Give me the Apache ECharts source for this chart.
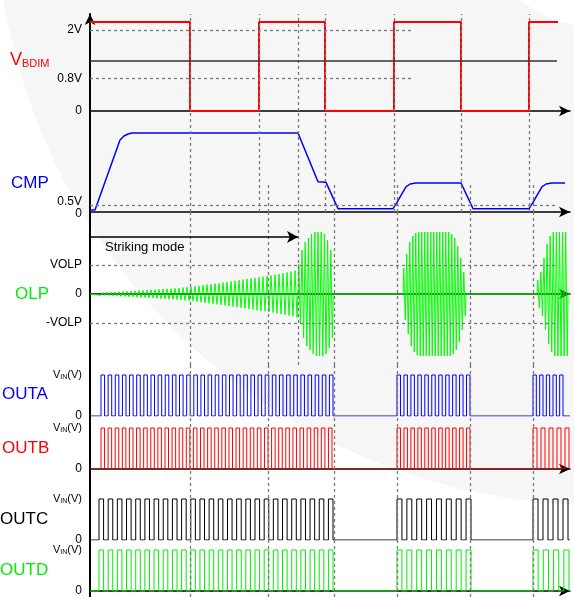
<!DOCTYPE html>
<html>
<head>
<meta charset="utf-8">
<script src="https://cdn.jsdelivr.net/npm/echarts@6/dist/echarts.min.js"></script>
<style>
html, body { margin: 0; padding: 0; background: #fff; }
#Chart { width: 574px; height: 597px; }
</style>
</head>
<body>
<div id="Chart"></div>
<script>
// time runs 0..480 along every panel
var tMax = 480;

// VBDIM: toggle times (starts high)
var bdimEdges = [0, 100, 169, 235, 304, 371, 439, 468];
var bdimHigh = 2.2;
var bdimRef = 1.235;
var bdimTickVals = [0, 0.8, 2];
var bdimTickText = ['0', '0.8V', '2V'];

// CMP waveform
var cmpT = [0, 5, 10, 15, 20, 25, 30, 34, 38, 42, 208, 228, 236, 248, 303, 307, 312, 316, 320, 326, 371, 383, 439, 443, 448, 452, 456, 462, 475];
var cmpV = [0.14, 0.14, 1.14, 2.14, 3.14, 4.14, 5.14, 5.43, 5.57, 5.64, 5.64, 2.16, 2.12, 0.24, 0.24, 0.69, 1.31, 1.8, 2.0, 2.07, 2.07, 0.24, 0.24, 0.69, 1.31, 1.8, 2.0, 2.07, 2.07];
var cmpRef = 0.5;
var cmpRefText = '0.5V';

// OLP bursts: [start, period], amplitude of each cycle
var olpBursts = [[0, 4], [208, 3.2], [313, 3], [447, 3.1]];
var olpAmps = [
  [0.5, 0.8, 1.2, 1.5, 1.7, 1.9, 2.1, 2.4, 2.6, 2.8, 3, 3.3, 3.5, 3.6, 3.9, 4.1, 4.4, 4.7, 5, 5.2, 5.4, 5.7, 6, 6.4, 6.8, 7.2,
   7.8, 8.2, 8.8, 9.4, 9.8, 10.4, 10.9, 11.4, 12, 12.6, 13.2, 13.8, 14.4, 15, 15.6, 16.2, 16.8, 17.4, 18, 18.6, 19.4, 20, 20.8, 21.6, 22.4, 23.4],
  [30, 44, 52, 56, 60, 62, 62, 62, 60, 54, 44],
  [26, 40, 52, 58, 61, 62, 62, 62, 62, 62, 62, 62, 62, 62, 62, 62, 60, 56, 48, 36, 22],
  [14, 22, 36, 50, 58, 62, 62, 62, 62, 62]
];
var olpTickVals = [-29, 0, 29];
var olpTickText = ['-VOLP', '0', 'VOLP'];
var olpVolp = 29;
var strikeLevel = 57;
var strikeEnd = 208;

// gate outputs: bursts [start, end, pulse count]
var outA = [[11, 243, 33], [307, 380, 11], [443, 473, 5]];
var outB = [[11, 242, 33], [307, 380, 11], [443, 479, 5]];
var outC = [[9, 243, 26], [307, 381, 8], [443, 478, 4]];
var outD = [[9, 243, 26], [307, 381, 8], [443, 479, 4]];
var outTickVals = [0, 1];

// dashed guides
var guideFull = [100];
var guideUpper = [169, 235, 304, 371, 439];
var guideStrike = [208];
var guideLower = [178, 244, 307, 380, 443];
var guideLowerFrom = 2.14;

var font = '"Liberation Sans", Arial, sans-serif';

var panels = [
    {top: 14, height: 97, min: 0, max: 2.395, arrow: true},
    {top: 111, height: 101, min: 0, max: 7.214, arrow: true},
    {top: 212, height: 153, min: -71, max: 82, arrow: true},
    {top: 365, height: 51, min: 0, max: 1.244, arrow: false},
    {top: 416, height: 53, min: 0, max: 1.293, arrow: true},
    {top: 469, height: 71, min: 0, max: 1.732, arrow: false},
    {top: 540, height: 57, min: -0.146, max: 1.244, arrow: true}
];

function bdimData() {
    var d = [];
    var high = true;
    for (var i = 0; i < bdimEdges.length; i++) {
        var lv = high ? bdimHigh : 0;
        if (i > 0) {
            d.push([bdimEdges[i], high ? 0 : bdimHigh]);
        }
        if (i < bdimEdges.length - 1) d.push([bdimEdges[i], lv]);
        else d.push([bdimEdges[i], high ? 0 : bdimHigh]);
        high = !high;
    }
    return d;
}

function cmpData() {
    var d = [];
    for (var i = 0; i < cmpT.length; i++) d.push([cmpT[i], cmpV[i]]);
    return d;
}

function olpData() {
    var d = [[0, 0]];
    for (var k = 0; k < olpBursts.length; k++) {
        var t0 = olpBursts[k][0], p = olpBursts[k][1], a = olpAmps[k];
        if (k > 0) d.push([t0, 0]);
        for (var i = 0; i < a.length; i++) {
            d.push([t0 + i * p + p / 4, a[i]]);
            d.push([t0 + i * p + 3 * p / 4, -a[i]]);
        }
        d.push([t0 + a.length * p, 0]);
    }
    d.push([tMax, 0]);
    return d;
}

function pulseData(bursts) {
    var d = [[0, 0]];
    bursts.forEach(function (b) {
        var p = (b[1] - b[0]) / (b[2] - 0.5);
        for (var i = 0; i < b[2]; i++) {
            var r = b[0] + i * p, f = r + p / 2;
            d.push([r, 0], [r, 1], [f, 1], [f, 0]);
        }
    });
    d.push([tMax, 0]);
    return d;
}

function vLine(t, y0, y1) { return [{coord: [t, y0]}, {coord: [t, y1]}]; }
function hLine(y, t0, t1) { return [{coord: [t0, y]}, {coord: [t1, y]}]; }

function startLabel(text, dy) {
    return {
        show: true, formatter: text, position: 'start', distance: 8,
        color: '#000', fontSize: 12, fontFamily: font, lineHeight: 8, offset: [0, dy]
    };
}

function guideLines(i) {
    var g = panels[i], lines = [];
    guideFull.forEach(function (t) { lines.push(vLine(t, g.min, g.max)); });
    if (i <= 1) guideUpper.forEach(function (t) { lines.push(vLine(t, g.min, g.max)); });
    if (i <= 2) guideStrike.forEach(function (t) { lines.push(vLine(t, g.min, g.max)); });
    if (i == 1) guideLower.forEach(function (t) { lines.push(vLine(t, g.min, guideLowerFrom)); });
    if (i >= 2) guideLower.forEach(function (t) { lines.push(vLine(t, g.min, g.max)); });
    if (i == 0) {
        lines.push(hLine(2, 0, 324));
        lines.push(hLine(0.8, 0, 321));
        var ref = hLine(bdimRef, 0, 467);
        ref[0].lineStyle = {type: 'solid', color: '#333', width: 1.5};
        lines.push(ref);
    }
    if (i == 1) {
        var c = hLine(cmpRef, 0, 468);
        c[0].label = startLabel(cmpRefText, -3);
        lines.push(c);
        var z = hLine(0, 0, 2);
        z[0].lineStyle = {color: 'rgba(0,0,0,0)'};
        z[0].label = startLabel('0', 2);
        lines.push(z);
    }
    if (i == 2) {
        lines.push(hLine(olpVolp, 0, 468));
        lines.push(hLine(-olpVolp, 0, 468));
        var s = hLine(strikeLevel, 0, strikeEnd);
        s[0].lineStyle = {type: 'solid', color: '#000', width: 1.5};
        s[0].symbol = 'none';
        s[1].symbol = 'arrow';
        s[1].symbolSize = [9, 11];
        s[0].label = {
            show: true, formatter: 'Striking mode', position: 'insideStartBottom',
            color: '#000', fontSize: 13, fontFamily: font, distance: 4, padding: [0, 0, 0, 11]
        };
        lines.push(s);
    }
    return lines;
}

var vinRich = {
    v: {fontSize: 11, color: '#000', fontFamily: font, verticalAlign: 'bottom'},
    s: {fontSize: 7, color: '#000', fontFamily: font, verticalAlign: 'bottom'}
};

function labelCfg(vals, texts) {
    return {
        show: vals.length > 0,
        customValues: vals,
        showMinLabel: true,
        showMaxLabel: true,
        formatter: function (v) {
            var k = vals.indexOf(v);
            return k < 0 ? '' : texts[k];
        },
        color: '#000',
        fontSize: 12,
        fontFamily: font,
        margin: 8,
        rich: vinRich
    };
}

function tickCfg(i) {
    if (i == 0) return labelCfg(bdimTickVals, bdimTickText);
    if (i == 1) return labelCfg([], []);
    if (i == 2) return labelCfg(olpTickVals, olpTickText);
    return labelCfg(outTickVals, ['0', '{v|V}{s|IN}{v|(V)}']);
}

var myChart = echarts.init(document.getElementById('Chart'));

var grid = [], xAxis = [], yAxis = [], series = [];
panels.forEach(function (g, i) {
    grid.push({left: 90, right: 4, top: g.top, height: g.height});
    xAxis.push({
        type: 'value', gridIndex: i, min: 0, max: tMax,
        axisLine: {
            show: g.arrow, onZero: true, symbol: ['none', 'arrow'], symbolSize: [8, 11],
            lineStyle: {color: '#000', width: 1.5}
        },
        axisTick: {show: false}, axisLabel: {show: false}, splitLine: {show: false}
    });
    yAxis.push({
        type: 'value', gridIndex: i, min: g.min, max: g.max,
        axisLine: {
            show: true, onZero: false,
            symbol: i == 0 ? ['none', 'arrow'] : 'none', symbolSize: [8, 11],
            lineStyle: {color: '#000', width: 2}
        },
        axisTick: {show: false}, splitLine: {show: false},
        axisLabel: tickCfg(i)
    });
    series.push({
        type: 'line', xAxisIndex: i, yAxisIndex: i, data: [], silent: true, z: 1,
        markLine: {
            silent: true, symbol: 'none', animation: false, label: {show: false},
            lineStyle: {color: '#7a7a7a', type: [3, 3], width: 1.3},
            data: guideLines(i)
        }
    });
});

function signal(i, data, color, width) {
    return {
        type: 'line', xAxisIndex: i, yAxisIndex: i, data: data, showSymbol: false,
        symbol: 'none', z: 3, silent: true,
        lineStyle: {color: color, width: width}
    };
}

series.push(signal(0, bdimData(), '#ff0000', 2));
series.push(signal(1, cmpData(), '#0000ff', 1.5));
series.push(signal(2, olpData(), '#00ff00', 1));
series.push(signal(3, pulseData(outA), '#0000ff', 1));
series.push(signal(4, pulseData(outB), '#ff0000', 1));
series.push(signal(5, pulseData(outC), '#000000', 1));
series.push(signal(6, pulseData(outD), '#00ee00', 1));

function name(x, y, text, color, rich) {
    return {
        type: 'text', x: x, y: y, silent: true, z: 10,
        style: {
            text: text, fill: color, font: '17px ' + font,
            verticalAlign: 'middle', align: 'left', rich: rich
        }
    };
}

var option = {
    animation: false,
    backgroundColor: '#fff',
    grid: grid,
    xAxis: xAxis,
    yAxis: yAxis,
    series: series,
    graphic: [
        {type: 'circle', shape: {cx: 600, cy: -100, r: 605}, style: {fill: '#f6f6f6'}, z: -10, silent: true},
        {type: 'circle', shape: {cx: 600, cy: -100, r: 128}, style: {fill: '#ffffff'}, z: -9, silent: true},
        name(10, 60, '{a|V}{b|BDIM}', '#ff0000', {
            a: {fontSize: 18, fill: '#ff0000', fontFamily: font, verticalAlign: 'bottom'},
            b: {fontSize: 11, fill: '#ff0000', fontFamily: font, verticalAlign: 'bottom'}
        }),
        name(11, 183, 'CMP', '#0000ff'),
        name(15, 294, 'OLP', '#00ee00'),
        name(2, 394, 'OUTA', '#0000ff'),
        name(2, 448, 'OUTB', '#ff0000'),
        name(0, 519, 'OUTC', '#000000'),
        name(0, 570, 'OUTD', '#00ee00')
    ]
};
myChart.setOption(option);
window.addEventListener('resize', function () {
    myChart.resize();
});
</script>
</body>
</html>
